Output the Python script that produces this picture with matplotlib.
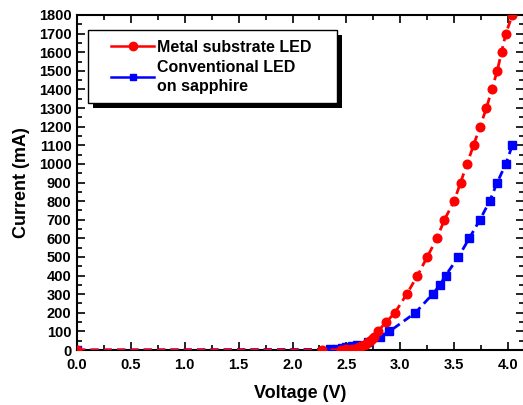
import matplotlib
matplotlib.use("Agg")
import matplotlib.pyplot as plt
from matplotlib.patches import Rectangle
from matplotlib.ticker import MultipleLocator
from matplotlib.lines import Line2D

plt.rcParams['font.family'] = ['Liberation Sans', 'DejaVu Sans']
plt.rcParams['font.weight'] = 'bold'

# Metal substrate LED (red circles)
v_metal = [0.0, 2.27, 2.45, 2.50, 2.55, 2.60, 2.62, 2.64, 2.66, 2.68, 2.70, 2.72,
           2.74, 2.76, 2.79, 2.87, 2.95, 3.06, 3.16, 3.25, 3.34, 3.41, 3.50,
           3.56, 3.62, 3.68, 3.74, 3.80, 3.85, 3.90, 3.94, 3.98, 4.04]
i_metal = [0, 0, 2, 4, 8, 13, 17, 22, 28, 34, 42, 50,
           60, 72, 100, 150, 200, 300, 400, 500, 600, 700, 800,
           900, 1000, 1100, 1200, 1300, 1400, 1500, 1600, 1700, 1800]

# Conventional LED on sapphire (blue squares)
v_conv = [0.0, 2.35, 2.41, 2.46, 2.50, 2.55, 2.60, 2.70, 2.81, 2.90, 3.14,
          3.30, 3.37, 3.42, 3.54, 3.64, 3.74, 3.83, 3.90, 3.98, 4.04]
i_conv = [0, 3, 8, 12, 17, 22, 28, 45, 70, 100, 200,
          300, 350, 400, 500, 600, 700, 800, 900, 1000, 1100]

label_metal = "Metal substrate LED"
label_conv = "Conventional LED\non sapphire"

fig = plt.figure(figsize=(5.23, 4.05), dpi=100)
AX_L, AX_R, AX_T, AX_B = 77, 524, 15, 350
ax = fig.add_axes([AX_L/523, (405-AX_B)/405, (AX_R-AX_L)/523, (AX_B-AX_T)/405])

def ax_x(px):
    return (px - AX_L) / (AX_R - AX_L)

def ax_y(py):
    return (AX_B - py) / (AX_B - AX_T)

ax.plot(v_conv, i_conv, color='#0000ff', marker='s', ms=5.2, mec='#0000ff',
        lw=2, linestyle=(0, (3, 1.8)), zorder=3)
ax.plot(v_metal, i_metal, color='#ff0000', marker='o', ms=6.2, mec='#ff0000',
        lw=2, linestyle=(0, (3, 1.8)), zorder=4)

ax.set_xlim(0, (AX_R-AX_L)/107.75)
ax.set_ylim(0, 1800)
ax.xaxis.set_major_locator(MultipleLocator(0.5))
ax.xaxis.set_minor_locator(MultipleLocator(0.25))
ax.yaxis.set_major_locator(MultipleLocator(100))
ax.yaxis.set_minor_locator(MultipleLocator(50))
ax.xaxis.set_major_formatter(matplotlib.ticker.FormatStrFormatter('%.1f'))

ax.tick_params(which='both', direction='in', top=True, right=True,
               labelsize=10.5, width=1.2)
ax.tick_params(which='major', length=6)
ax.tick_params(which='minor', length=3.5)
ax.tick_params(axis='x', which='major', pad=6)
ax.tick_params(axis='y', which='major', pad=4)
for lab in ax.get_xticklabels() + ax.get_yticklabels():
    lab.set_fontweight('bold')
for s in ax.spines.values():
    s.set_linewidth(1.5)

ax.set_xlabel("Voltage (V)", fontsize=13, fontweight='bold', labelpad=9)
ax.set_ylabel("Current (mA)", fontsize=13, fontweight='bold', labelpad=6)

# legend box with black shadow
x0, x1, y0, y1 = ax_x(88), ax_x(337), ax_y(103), ax_y(30)
sh = 5 / (AX_R - AX_L), 5 / (AX_B - AX_T)
ax.add_patch(Rectangle((x0 + sh[0], y0 - sh[1]), x1 - x0, y1 - y0,
                       transform=ax.transAxes, facecolor='black',
                       edgecolor='none', zorder=8, clip_on=False))
ax.add_patch(Rectangle((x0, y0), x1 - x0, y1 - y0, transform=ax.transAxes,
                       facecolor='white', edgecolor='black', lw=1.0,
                       zorder=9, clip_on=False))

h_metal = Line2D([], [], color='#ff0000', marker='o', ms=6, lw=1.8)
h_conv = Line2D([], [], color='#0000ff', marker='s', ms=5, lw=1.8)
leg = ax.legend([h_metal, h_conv], [label_metal, label_conv],
                loc='upper left', bbox_to_anchor=(ax_x(111), ax_y(40)),
                frameon=False, prop={'size': 11.5, 'weight': 'bold'},
                handlelength=2.7, handletextpad=0.2, labelspacing=0.3,
                borderpad=0, borderaxespad=0)
for t in leg.get_texts():
    t.set_linespacing(1.35)
leg.set_zorder(10)

fig.savefig("out.png", dpi=100)
